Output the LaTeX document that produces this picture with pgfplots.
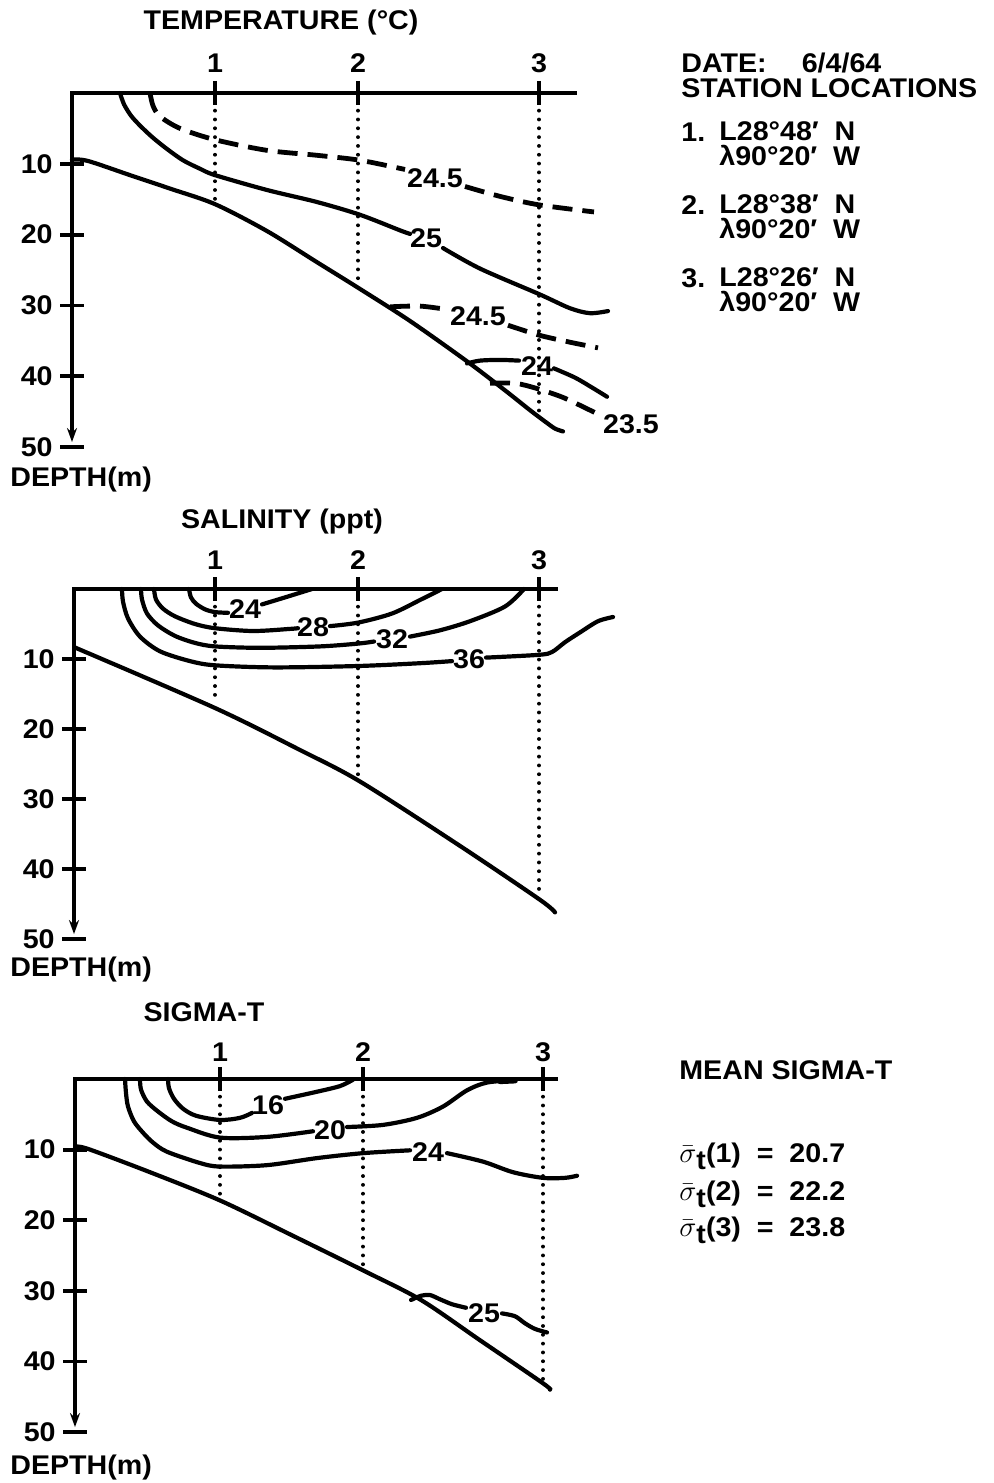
\documentclass[border=0pt]{standalone}
\usepackage{pgfplots}
\pgfplotsset{compat=1.18}
\usepackage{fontspec}
\setmainfont{Liberation Sans}[FakeStretch=1.06]
\usetikzlibrary{arrows.meta}
\newcommand{\tf}{\fontsize{13.5}{12.5}\selectfont\bfseries}
\pgfplotsset{
  panel/.style={hide axis, clip=false, scale only axis, width=496.5pt,
    xmin=0, xmax=993, ymin=0, ymax=50, y dir=reverse, anchor=north west},
  curve/.style={black, line width=2.1pt, smooth, tension=0.5, mark=none, line cap=round},
  dashd/.style={black, line width=2.4pt, smooth, tension=0.5, mark=none, dash pattern=on 10pt off 5pt},
  dotln/.style={black, line width=1.9pt, dash pattern=on 0.01pt off 4.4pt, line cap=round, mark=none},
  axln/.style={black, line width=1.9pt, mark=none},
}
\tikzset{lab/.style={font=\tf, inner sep=0.5pt}}
\begin{document}
\begin{tikzpicture}
\useasboundingbox (0,0) rectangle (496.5pt,-741.5pt);

% ================= PANEL 1: TEMPERATURE =================
\begin{axis}[panel, at={(0pt,-46.5pt)}, height=177pt]
\addplot[axln] coordinates {(70,0) (577,0)};
\addplot[axln, -{Stealth[length=7pt,width=5pt]}] coordinates {(72,0) (72,49.3)};
\addplot[axln] coordinates {(60,10) (84,10)};
\addplot[axln] coordinates {(60,20) (84,20)};
\addplot[axln] coordinates {(60,30) (84,30)};
\addplot[axln] coordinates {(60,40) (84,40)};
\addplot[axln] coordinates {(60,50) (84,50)};
\addplot[axln] coordinates {(215,-1.7) (215,1.7)};
\addplot[axln] coordinates {(358,-1.7) (358,1.7)};
\addplot[axln] coordinates {(539,-1.7) (539,1.7)};
\addplot[dotln] coordinates {(215,0) (215,15.2)};
\addplot[dotln] coordinates {(358,0) (358,26.3)};
\addplot[dotln] coordinates {(539,0) (539,46)};
% bottom
\addplot[curve] coordinates {(72,9.4) (88,9.6) (130,11.6) (170,13.5) (215,15.7) (267,19.5) (317,23.9) (358,27.5) (410,32.2) (467,37.9) (505,42) (530,44.8) (545,46.4) (555,47.4) (563,47.8)};
% 25
\addplot[curve] coordinates {(120,0) (124,1.6) (131,3.2) (140,4.6) (152,6.2) (166,7.8) (183,9.5) (200,10.7) (215,11.6) (267,13.7) (317,15.4) (360,17.2) (400,19.4) (410,19.9)};
\addplot[curve] coordinates {(443,21.9) (480,24.8) (539,28.4) (570,30.4) (590,31.1) (608,30.8)};
% 24.5 upper
\addplot[dashd] coordinates {(150,0) (153,1.8) (160,3.3) (180,5) (215,6.6) (267,8.1) (317,8.8) (360,9.5) (405,10.8)};
\addplot[dashd] coordinates {(465,13.2) (500,14.6) (539,15.8) (594,16.8)};
% 24.5 lower
\addplot[dashd] coordinates {(390,30.2) (420,30.1) (448,30.6)};
\addplot[dashd] coordinates {(508,32.8) (539,34.2) (570,35.2) (598,36)};
% 24
\addplot[curve] coordinates {(467,38.2) (480,37.8) (500,37.7) (519,37.8)};
\addplot[curve] coordinates {(554,38.9) (575,40.2) (592,41.6) (607,42.9)};
% 23.5
\addplot[dashd] coordinates {(490,41) (515,41) (536,41.7) (563,43) (590,44.8) (600,45.5)};
% labels
\node[lab] at (axis cs:281,-10) {TEMPERATURE (°C)};
\node[lab] at (axis cs:215,-4.2) {1};
\node[lab] at (axis cs:358,-4.2) {2};
\node[lab] at (axis cs:539,-4.2) {3};
\node[lab,anchor=east] at (axis cs:54,10) {10};
\node[lab,anchor=east] at (axis cs:54,20) {20};
\node[lab,anchor=east] at (axis cs:54,30) {30};
\node[lab,anchor=east] at (axis cs:54,40) {40};
\node[lab,anchor=east] at (axis cs:54,50) {50};
\node[lab,anchor=west] at (axis cs:9,54.6) {DEPTH(m)};
\node[lab] at (axis cs:435,12) {24.5};
\node[lab] at (axis cs:426,20.5) {25};
\node[lab] at (axis cs:478,31.5) {24.5};
\node[lab] at (axis cs:537,38.5) {24};
\node[lab] at (axis cs:631,46.8) {23.5};
\end{axis}

% ================= PANEL 2: SALINITY =================
\begin{axis}[panel, at={(0pt,-294.5pt)}, height=175pt]
\addplot[axln] coordinates {(72,0) (558,0)};
\addplot[axln, -{Stealth[length=7pt,width=5pt]}] coordinates {(74,0) (74,49.3)};
\addplot[axln] coordinates {(62,10) (86,10)};
\addplot[axln] coordinates {(62,20) (86,20)};
\addplot[axln] coordinates {(62,30) (86,30)};
\addplot[axln] coordinates {(62,40) (86,40)};
\addplot[axln] coordinates {(62,50) (86,50)};
\addplot[axln] coordinates {(215,-1.7) (215,1.7)};
\addplot[axln] coordinates {(358,-1.7) (358,1.7)};
\addplot[axln] coordinates {(539,-1.7) (539,1.7)};
\addplot[dotln] coordinates {(215,0) (215,16)};
\addplot[dotln] coordinates {(358,0) (358,26.9)};
\addplot[dotln] coordinates {(539,0) (539,44)};
% bottom
\addplot[curve] coordinates {(74,8.3) (215,17.0) (300,23.0) (360,27.5) (460,36.7) (540,44.4) (555,46.2)};
% 24
\addplot[curve] coordinates {(189,0) (191,1.2) (196,2.1) (205,2.9) (215,3.3) (228,3.4)};
\addplot[curve] coordinates {(262,2.2) (285,1.2) (312,0)};
% 28
\addplot[curve] coordinates {(154,0) (156,1.5) (163,2.8) (175,3.9) (195,5) (215,5.6) (253,6.0) (290,5.7) (298,5.6)};
\addplot[curve] coordinates {(330,5.3) (358,4.8) (392,3.5) (421,1.5) (442,0)};
% 32
\addplot[curve] coordinates {(141,0) (142,1.5) (147,3.5) (158,5.2) (175,6.7) (195,7.7) (215,8.2) (260,8.4) (320,8.2) (358,7.8) (374,7.5)};
\addplot[curve] coordinates {(410,6.8) (440,5.9) (470,4.6) (505,2.5) (524,0)};
% 36
\addplot[curve] coordinates {(122,0) (123,1.8) (128,4.2) (140,6.8) (160,8.9) (190,10.3) (215,10.9) (274,11.2) (358,11) (420,10.6) (452,10.3)};
\addplot[curve] coordinates {(486,9.8) (539,9.4) (552,9.0) (565,7.6) (580,6.2) (598,4.6) (613,4.0)};
% labels
\node[lab] at (axis cs:282,-9.6) {SALINITY (ppt)};
\node[lab] at (axis cs:215,-4.1) {1};
\node[lab] at (axis cs:358,-4.1) {2};
\node[lab] at (axis cs:539,-4.1) {3};
\node[lab,anchor=east] at (axis cs:56,10) {10};
\node[lab,anchor=east] at (axis cs:56,20) {20};
\node[lab,anchor=east] at (axis cs:56,30) {30};
\node[lab,anchor=east] at (axis cs:56,40) {40};
\node[lab,anchor=east] at (axis cs:56,50) {50};
\node[lab,anchor=west] at (axis cs:9,54.4) {DEPTH(m)};
\node[lab] at (axis cs:245,2.8) {24};
\node[lab] at (axis cs:313,5.4) {28};
\node[lab] at (axis cs:392,7.2) {32};
\node[lab] at (axis cs:469,10.0) {36};
\end{axis}

% ================= PANEL 3: SIGMA-T =================
\begin{axis}[panel, at={(0pt,-539.5pt)}, height=176.5pt]
\addplot[axln] coordinates {(73,0) (558,0)};
\addplot[axln, -{Stealth[length=7pt,width=5pt]}] coordinates {(75,0) (75,49.3)};
\addplot[axln] coordinates {(63,10) (87,10)};
\addplot[axln] coordinates {(63,20) (87,20)};
\addplot[axln] coordinates {(63,30) (87,30)};
\addplot[axln] coordinates {(63,40) (87,40)};
\addplot[axln] coordinates {(63,50) (87,50)};
\addplot[axln] coordinates {(220,-1.7) (220,1.7)};
\addplot[axln] coordinates {(363,-1.7) (363,1.7)};
\addplot[axln] coordinates {(543,-1.7) (543,1.7)};
\addplot[dotln] coordinates {(220,0) (220,16.7)};
\addplot[dotln] coordinates {(363,0) (363,26.8)};
\addplot[dotln] coordinates {(543,0) (543,43.3)};
% bottom
\addplot[curve] coordinates {(75,9.6) (88,9.9) (150,13.2) (220,17.2) (290,22) (363,27.1) (421,31.3) (480,37) (543,43.1) (550,44)};
% 16
\addplot[curve] coordinates {(168,0) (169,1.3) (174,2.8) (183,4.2) (196,5.2) (220,5.8) (240,5.5) (252,4.8)};
\addplot[curve] coordinates {(285,2.8) (317,1.8) (340,1.0) (353,0.1)};
% 20
\addplot[curve] coordinates {(140,0) (141,1.5) (147,3.2) (158,4.6) (172,6.0) (187,6.9) (220,8.3) (267,8.2) (313,7.4)};
\addplot[curve] coordinates {(347,6.8) (383,6.5) (417,5.5) (443,3.9) (467,1.6) (487,0.5) (515,0.15)};
\addplot[curve, line width=3pt] coordinates {(500,0.3) (515,0.2)};
% 24
\addplot[curve] coordinates {(125,0) (126,2) (128,3.9) (134,6) (143,7.6) (153,9) (167,10.3) (200,11.9) (220,12.4) (267,12.2) (317,11.2) (363,10.5) (410,10.1)};
\addplot[curve] coordinates {(447,10.5) (483,11.7) (513,13.2) (543,14) (565,14) (577,13.7)};
% 25
\addplot[curve] coordinates {(411,31.3) (421,30.7) (430,30.6) (440,31.2) (452,31.9) (466,32.4)};
\addplot[curve] coordinates {(502,33.2) (515,33.6) (525,34.6) (535,35.4) (547,35.9)};
% labels
\node[lab] at (axis cs:204,-9.4) {SIGMA-T};
\node[lab] at (axis cs:220,-3.8) {1};
\node[lab] at (axis cs:363,-3.8) {2};
\node[lab] at (axis cs:543,-3.8) {3};
\node[lab,anchor=east] at (axis cs:57,10) {10};
\node[lab,anchor=east] at (axis cs:57,20) {20};
\node[lab,anchor=east] at (axis cs:57,30) {30};
\node[lab,anchor=east] at (axis cs:57,40) {40};
\node[lab,anchor=east] at (axis cs:57,50) {50};
\node[lab,anchor=west] at (axis cs:9,55) {DEPTH(m)};
\node[lab] at (axis cs:268,3.7) {16};
\node[lab] at (axis cs:330,7.2) {20};
\node[lab] at (axis cs:428,10.3) {24};
\node[lab] at (axis cs:484,33.2) {25};
\end{axis}

% ================= Right-hand text =================
\node[lab,anchor=west,align=left] at (340pt,-37.5pt) {DATE:\hspace{1.3em}6/4/64\\STATION LOCATIONS};
\node[lab,anchor=west] at (340pt,-66pt) {1.};
\node[lab,anchor=west,align=left] at (359pt,-72pt) {L28°48′\ \ N\\λ90°20′\ \ W};
\node[lab,anchor=west] at (340pt,-102.5pt) {2.};
\node[lab,anchor=west,align=left] at (359pt,-108.5pt) {L28°38′\ \ N\\λ90°20′\ \ W};
\node[lab,anchor=west] at (340pt,-139pt) {3.};
\node[lab,anchor=west,align=left] at (359pt,-145pt) {L28°26′\ \ N\\λ90°20′\ \ W};
\node[lab,anchor=west] at (339pt,-535pt) {MEAN SIGMA-T};
\node[lab,anchor=west] at (339pt,-578pt) {$\bar{\sigma}$\raisebox{-0.5ex}{t}(1)\ \ =\ \ 20.7};
\node[lab,anchor=west] at (339pt,-597pt) {$\bar{\sigma}$\raisebox{-0.5ex}{t}(2)\ \ =\ \ 22.2};
\node[lab,anchor=west] at (339pt,-615pt) {$\bar{\sigma}$\raisebox{-0.5ex}{t}(3)\ \ =\ \ 23.8};
\end{tikzpicture}
\end{document}
